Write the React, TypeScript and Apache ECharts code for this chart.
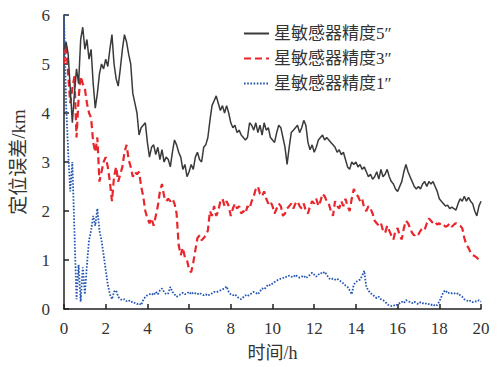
import React, { useEffect, useRef } from "react";
import * as echarts from "echarts";

// time axis: 0 .. 20 h, sampled every 0.1 h
const timeH: number[] = Array.from({ length: 201 }, (_, i) => i / 10);

const xTicks = [0, 2, 4, 6, 8, 10, 12, 14, 16, 18, 20];
const yTicks = [0, 1, 2, 3, 4, 5, 6];

const seriesNames = ["星敏感器精度5″", "星敏感器精度3″", "星敏感器精度1″"];

// 5″ star sensor
const err5: number[] = [
  5.3, 5.45, 5.2, 4.5, 3.8, 4.4, 4.9, 4.6, 5.5, 5.75,
  5.3, 5.5, 5.1, 5.3, 4.6, 4.1, 4.4, 4.8, 5.0, 4.9,
  5.1, 4.95, 5.3, 5.6, 5.0, 4.7, 4.55, 4.9, 5.3, 5.6,
  5.45, 5.2, 5.0, 4.4, 4.2, 4.0, 3.55, 3.7, 3.75, 3.8,
  3.4, 3.1, 3.3, 3.35, 3.15, 3.3, 3.05, 3.25, 3.0, 3.1,
  3.05, 2.9, 3.2, 3.45, 3.35, 3.2, 3.1, 2.85, 2.95, 2.7,
  2.8, 2.95, 2.85, 3.1, 3.2, 3.05, 3.0, 3.3, 3.35, 3.5,
  3.85, 4.15, 4.25, 4.35, 4.2, 4.05, 4.15, 4.0, 4.15, 4.0,
  3.8, 3.7, 3.75, 3.6, 3.65, 3.55, 3.5, 3.45, 3.5, 3.8,
  3.75, 3.65, 3.8, 3.6, 3.75, 3.55, 3.8, 3.65, 3.7, 3.5,
  3.45, 3.4, 3.6, 3.75, 3.7, 3.5, 3.3, 2.95, 3.3, 3.6,
  3.65, 3.7, 3.75, 3.6, 3.7, 3.85, 3.75, 3.4, 3.25, 3.35,
  3.2, 3.3, 3.45, 3.5, 3.55, 3.45, 3.5, 3.45, 3.4, 3.35,
  3.3, 3.2, 3.25, 3.15, 3.2, 3.05, 2.9, 2.85, 3.0, 2.95,
  3.0, 2.9, 2.95, 2.85, 2.9, 2.8, 2.7, 2.75, 2.65, 2.7,
  2.8, 2.65, 2.85, 2.7, 2.75, 2.85, 2.7, 2.6, 2.55, 2.45,
  2.4, 2.5, 2.6, 2.8, 2.95, 2.8, 2.7, 2.6, 2.5, 2.45,
  2.5, 2.45, 2.55, 2.6, 2.5, 2.6, 2.55, 2.6, 2.5, 2.4,
  2.25, 2.2, 2.15, 2.1, 2.12, 2.05, 2.08, 2.05, 2.02, 2.15,
  2.25, 2.2, 2.3, 2.2, 2.28, 2.2, 2.15, 2.0, 1.9, 2.1,
  2.2,
];

// 3″ star sensor
const err3: number[] = [
  5.0, 5.4, 4.8, 4.2, 4.5, 4.75, 3.5, 4.3, 4.75, 4.6,
  4.5, 4.2, 4.0, 3.9, 3.4, 3.2, 3.5, 2.6, 2.8, 3.0,
  3.1, 2.9, 2.6, 2.2, 2.7, 2.9, 2.6, 2.75, 2.9, 3.2,
  3.35, 3.05, 2.9, 2.7, 2.8, 2.75, 2.8, 2.5, 2.3, 2.0,
  1.85, 1.75, 1.85, 1.7, 1.9, 2.1, 2.4, 2.55, 2.3, 2.2,
  2.25, 2.2, 2.25, 2.15, 1.95, 1.3, 1.1, 1.25, 1.05, 1.0,
  0.8, 0.75, 0.95, 1.2, 1.45, 1.5, 1.4, 1.45, 1.5, 1.6,
  2.0, 1.9, 2.1, 1.9, 2.0, 2.2, 2.25, 2.1, 2.2, 2.1,
  1.9, 2.05, 2.15, 2.05, 2.1, 1.95, 2.0, 1.95, 2.1, 2.05,
  2.2, 2.3, 2.45, 2.5, 2.35, 2.3, 2.4, 2.25, 2.15, 2.2,
  2.1, 1.95, 2.05, 2.15, 2.1, 1.9, 1.95, 2.05, 2.1, 2.15,
  2.05, 2.15, 2.2, 2.1, 2.05, 2.15, 2.0, 1.95, 2.1, 2.2,
  2.15, 2.25, 2.1, 2.2, 2.35, 2.3, 2.2, 2.15, 2.0, 1.9,
  2.2, 2.1, 2.05, 2.2, 2.1, 2.25, 2.1, 2.0, 2.25, 2.45,
  2.35, 2.3, 2.2, 2.25, 2.05, 2.0, 2.1, 2.05, 1.95, 1.8,
  1.75, 1.7, 1.75, 1.6, 1.55, 1.7, 1.6, 1.5, 1.42, 1.6,
  1.65, 1.5, 1.42, 1.65, 1.8, 1.75, 1.65, 1.55, 1.5, 1.55,
  1.52, 1.6, 1.65, 1.62, 1.75, 1.85, 1.8, 1.75, 1.78, 1.72,
  1.75, 1.7, 1.72, 1.68, 1.7, 1.75, 1.68, 1.72, 1.75, 1.72,
  1.7, 1.65, 1.45, 1.3, 1.25, 1.15, 1.1, 1.08, 1.05, 1.0,
  0.98,
];

// 1″ star sensor
const err1: number[] = [
  6.0, 4.2, 3.2, 2.4, 3.0, 1.6, 0.2, 0.9, 0.15, 0.85,
  0.3, 0.9, 1.4, 1.6, 1.9, 1.7, 2.05, 1.6, 1.4, 1.1,
  0.8, 0.5, 0.3, 0.2, 0.35, 0.38, 0.25, 0.2, 0.18, 0.2,
  0.16, 0.18, 0.14, 0.15, 0.12, 0.1, 0.12, 0.08, 0.18, 0.25,
  0.28, 0.3, 0.32, 0.28, 0.35, 0.3, 0.38, 0.42, 0.35, 0.3,
  0.32, 0.45, 0.35, 0.3, 0.25, 0.28, 0.3, 0.33, 0.3, 0.32,
  0.35, 0.3, 0.34, 0.32, 0.3, 0.33, 0.3, 0.28, 0.3, 0.27,
  0.3, 0.32, 0.35, 0.34, 0.36, 0.38, 0.4, 0.42, 0.46, 0.35,
  0.3, 0.28, 0.3, 0.25, 0.22, 0.2, 0.24, 0.28, 0.26, 0.3,
  0.32, 0.35, 0.33, 0.3, 0.36, 0.42, 0.4, 0.45, 0.5, 0.48,
  0.52, 0.55, 0.58, 0.6, 0.62, 0.63, 0.66, 0.65, 0.68, 0.66,
  0.65, 0.7, 0.66, 0.64, 0.66, 0.68, 0.63, 0.66, 0.7, 0.74,
  0.7, 0.66, 0.7, 0.74, 0.72, 0.76, 0.7, 0.63, 0.6, 0.62,
  0.6, 0.62, 0.58, 0.56, 0.52, 0.48, 0.45, 0.38, 0.3, 0.5,
  0.55, 0.58, 0.6, 0.68, 0.78, 0.45, 0.38, 0.32, 0.3, 0.25,
  0.22, 0.25, 0.2, 0.18, 0.15, 0.1, 0.07, 0.06, 0.08, 0.06,
  0.1, 0.12, 0.15, 0.12, 0.18, 0.16, 0.14, 0.12, 0.15, 0.12,
  0.1, 0.14, 0.12, 0.1, 0.12, 0.1, 0.08, 0.1, 0.06, 0.08,
  0.15, 0.25, 0.35, 0.38, 0.32, 0.34, 0.32, 0.33, 0.3, 0.32,
  0.28, 0.25, 0.2, 0.18, 0.15, 0.17, 0.14, 0.16, 0.15, 0.18,
  0.15,
];

const FONT = "Liberation Serif, Noto Sans CJK SC";

function pairs(vals: number[]): [number, number][] {
  return timeH.map((t, i) => [t, vals[i]]);
}

export default function App() {
  const ref = useRef<HTMLDivElement>(null);
  useEffect(() => {
    if (!ref.current) return;
    const chart = echarts.init(ref.current, undefined, { renderer: "svg" });
    chart.setOption({
      animation: false,
      backgroundColor: "#ffffff",
      textStyle: { fontFamily: FONT },
      grid: { left: 64, right: 18, top: 15, bottom: 57 },
      legend: {
        orient: "vertical",
        left: 238,
        top: 20,
        itemWidth: 25,
        itemHeight: 17,
        itemGap: 8,
        itemStyle: { opacity: 0 },
        textStyle: { fontFamily: FONT, fontSize: 17, color: "#333", lineHeight: 17 },
        data: seriesNames,
      },
      xAxis: {
        type: "value",
        min: 0,
        max: 20,
        interval: 2,
        name: "时间/h",
        nameLocation: "middle",
        nameGap: 35,
        nameTextStyle: { fontFamily: FONT, fontSize: 18, color: "#333" },
        axisLine: { lineStyle: { color: "#222", width: 1.5 } },
        axisTick: { inside: true, length: 5, lineStyle: { color: "#222", width: 1.5 } },
        axisLabel: {
          fontFamily: FONT,
          fontSize: 17,
          color: "#333",
          margin: 11,
          customValues: xTicks,
        },
        splitLine: { show: false },
      },
      yAxis: {
        type: "value",
        min: 0,
        max: 6,
        interval: 1,
        name: "定位误差/km",
        nameLocation: "middle",
        nameGap: 36,
        nameRotate: 90,
        nameTextStyle: { fontFamily: FONT, fontSize: 19, color: "#333" },
        axisLine: { show: true, lineStyle: { color: "#222", width: 1.5 } },
        axisTick: { show: true, inside: true, length: 5, lineStyle: { color: "#222", width: 1.5 } },
        axisLabel: {
          fontFamily: FONT,
          fontSize: 17,
          color: "#333",
          margin: 14,
          customValues: yTicks,
        },
        splitLine: { show: false },
      },
      series: [
        {
          name: seriesNames[0],
          type: "line",
          symbol: "none",
          data: pairs(err5),
          lineStyle: { color: "#3a3a3a", width: 1.5, type: "solid" },
          itemStyle: { color: "#3a3a3a" },
          z: 3,
        },
        {
          name: seriesNames[1],
          type: "line",
          symbol: "none",
          data: pairs(err3),
          lineStyle: { color: "#e8262b", width: 2.2, type: [7, 4] },
          itemStyle: { color: "#e8262b" },
          z: 2,
        },
        {
          name: seriesNames[2],
          type: "line",
          symbol: "none",
          data: pairs(err1),
          lineStyle: { color: "#2456b4", width: 1.8, type: [1.6, 1.6] },
          itemStyle: { color: "#2456b4" },
          z: 1,
        },
      ],
    });
    return () => chart.dispose();
  }, []);
  return (
    <div
      ref={ref}
      style={{ position: "fixed", left: 0, top: 0, width: 499, height: 367, background: "#fff" }}
    />
  );
}
